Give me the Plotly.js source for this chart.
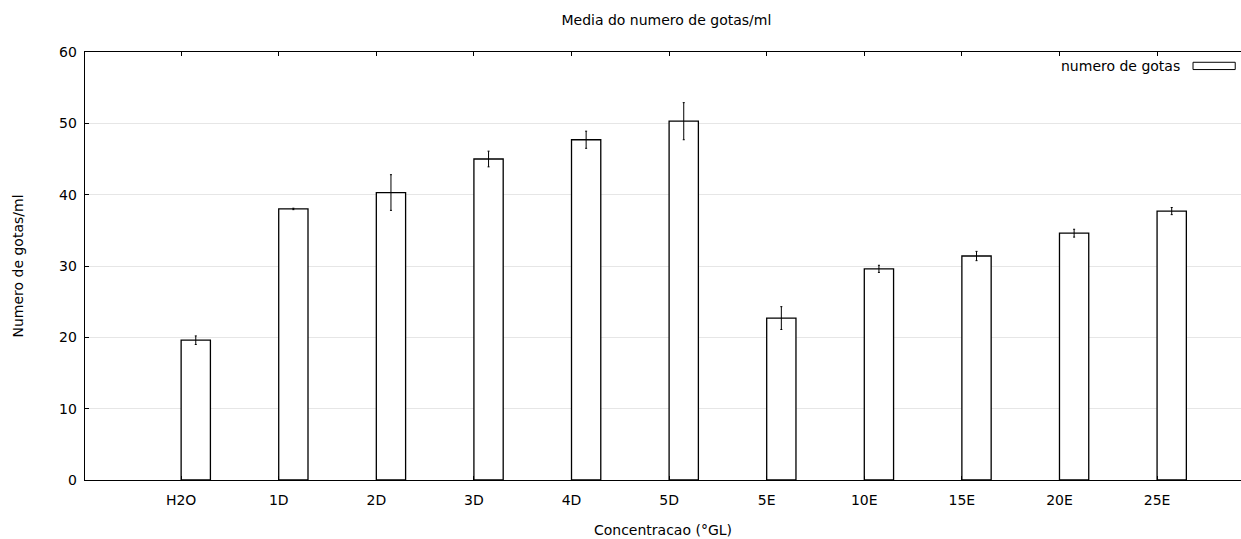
<!DOCTYPE html>
<html>
<head>
<meta charset="utf-8">
<script src="https://cdn.plot.ly/plotly-3.0.1.min.js"></script>
<style>html,body{margin:0;padding:0;background:#fff;}#chart{width:1241px;height:539px;}</style>
</head>
<body>
<div id="chart"></div>
<script>
var categories = ["H2O", "1D", "2D", "3D", "4D", "5D", "5E", "10E", "15E", "20E", "25E"];
var meanDrops = [19.6, 38.0, 40.3, 45.0, 47.7, 50.3, 22.7, 29.6, 31.4, 34.6, 37.7];
var errorDrops = [0.6, 0.1, 2.5, 1.1, 1.2, 2.6, 1.6, 0.5, 0.65, 0.55, 0.5];
var seriesName = "numero de gotas";

var font = "DejaVu Sans, Verdana, sans-serif";
var fs = 14;

var trace = {
  type: "bar",
  x: categories,
  y: meanDrops,
  name: seriesName,
  offset: 0,
  width: 0.3,
  marker: {color: "#ffffff", line: {color: "#000000", width: 1.3}},
  error_y: {type: "data", array: errorDrops, visible: true, color: "#000000", thickness: 1, width: 1},
  showlegend: false,
  hoverinfo: "x+y"
};

var layout = {
  width: 1241,
  height: 539,
  margin: {l: 85, r: 0, t: 52, b: 59},
  paper_bgcolor: "#ffffff",
  plot_bgcolor: "#ffffff",
  font: {family: font, size: fs, color: "#000000"},
  title: {text: "Media do numero de gotas/ml", font: {family: font, size: fs, color: "#000"}, x: 0.537, xanchor: "center", y: 0.962, yanchor: "middle"},
  xaxis: {
    type: "category",
    range: [-0.985, 10.86],
    showgrid: false,
    showline: true,
    linecolor: "#000000",
    linewidth: 1.3,
    mirror: "ticks",
    ticks: "inside",
    ticklen: 4,
    tickcolor: "#000",
    tickwidth: 1,
    ticklabelstandoff: 7,
    tickfont: {family: font, size: fs},
    title: {text: "Concentracao (°GL)", font: {family: font, size: fs}, standoff: 18},
    zeroline: false
  },
  yaxis: {
    range: [0, 60],
    dtick: 10,
    showgrid: true,
    gridcolor: "#e6e6e6",
    gridwidth: 1,
    showline: true,
    linecolor: "#000000",
    linewidth: 1.3,
    ticks: "inside",
    ticklen: 4,
    tickcolor: "#000",
    ticklabelstandoff: 4,
    tickfont: {family: font, size: fs},
    title: {text: "Numero de gotas/ml", font: {family: font, size: fs}, standoff: 32},
    zeroline: false
  },
  annotations: [{
    xref: "paper", yref: "paper", x: 0.949, y: 0.967, xanchor: "right", yanchor: "middle",
    text: seriesName, showarrow: false, font: {family: font, size: fs}
  }],
  shapes: [{
    type: "rect", xref: "paper", yref: "paper",
    x0: 0.9585, x1: 0.995, y0: 0.959, y1: 0.976,
    line: {color: "#000", width: 1}, fillcolor: "#fff"
  }]
};

Plotly.newPlot("chart", [trace], layout, {displayModeBar: false, staticPlot: true});
</script>
</body>
</html>
